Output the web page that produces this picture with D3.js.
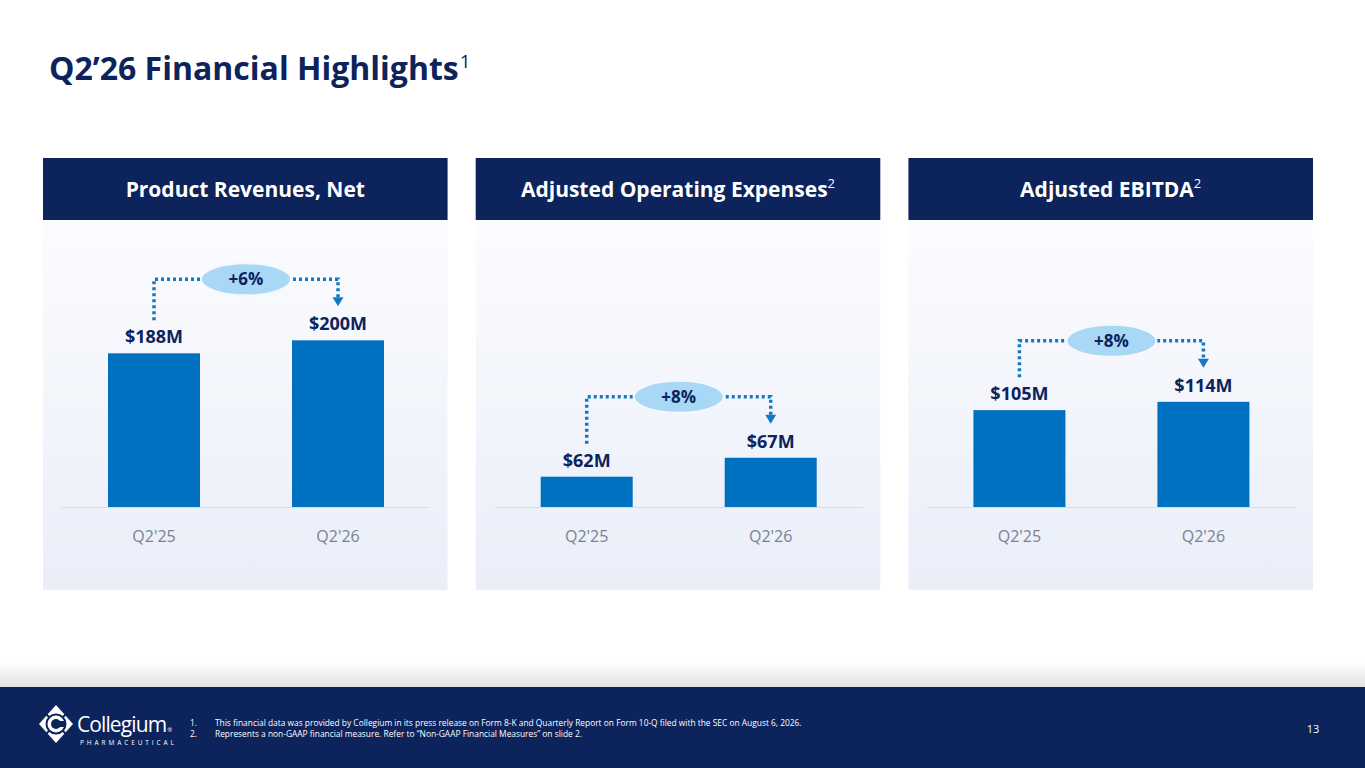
<!DOCTYPE html>
<html lang="en">
<head>
<meta charset="UTF-8">
<title>Q2'26 Financial Highlights</title>
<script src="https://d3js.org/d3.v7.min.js"></script>
<style>
  body { margin: 0; background: #fff; }
  svg { display: block; font-family: "Open Sans", "Noto Sans", sans-serif; }
</style>
</head>
<body>
<svg></svg>
<script>
// chart data
const panelTitles = ["Product Revenues, Net", "Adjusted Operating Expenses", "Adjusted EBITDA"];
const titleNotes = ["", "2", "2"];
const categories = ["Q2'25", "Q2'26"];
const revenues = [188, 200];
const opexValues = [62, 67];
const ebitdaValues = [105, 114];
const valueLabels = [["$188M", "$200M"], ["$62M", "$67M"], ["$105M", "$114M"]];
const changes = ["+6%", "+8%", "+8%"];
// value axis of each panel (the slide does not start its bars at zero)
const axisRanges = [[46, 277], [54, 120], [0, 271]];
const footnotes = [
    "This financial data was provided by Collegium in its press release on Form 8-K and Quarterly Report on Form 10-Q filed with the SEC on August 6, 2026.",
    "Represents a non-GAAP financial measure. Refer to \u201cNon-GAAP Financial Measures\u201d on slide 2."
];
const pageNumber = "13";

const width = 1365, height = 768;
const navy = "#0c235c", blue = "#0070c0";
const panelSeries = [revenues, opexValues, ebitdaValues];

const svg = d3.select("svg")
    .attr("width", width)
    .attr("height", height);

const defs = svg.append("defs");
const bodyGrad = defs.append("linearGradient")
    .attr("id", "panelBody").attr("x1", 0).attr("y1", 0).attr("x2", 0).attr("y2", 1);
bodyGrad.append("stop").attr("offset", "0%").attr("stop-color", "#fbfcfe");
bodyGrad.append("stop").attr("offset", "100%").attr("stop-color", "#eaeef9");
const shadeGrad = defs.append("linearGradient")
    .attr("id", "footShade").attr("x1", 0).attr("y1", 0).attr("x2", 0).attr("y2", 1);
shadeGrad.append("stop").attr("offset", "0%").attr("stop-color", "#ffffff");
shadeGrad.append("stop").attr("offset", "100%").attr("stop-color", "#e2e2e2");

// slide title
svg.append("text")
    .attr("x", 49).attr("y", 80)
    .attr("fill", navy)
    .style("font-size", "32px")
    .style("font-weight", 700)
    .text("Q2\u201926 Financial Highlights")
    .append("tspan")
    .attr("dx", 1).attr("dy", -12)
    .style("font-size", "19px")
    .style("font-weight", 400)
    .text("1");

// panels
const panelX = d3.scaleBand()
    .domain(d3.range(panelTitles.length))
    .range([43, 1313])
    .paddingInner(0.065);

const headerTop = 158, headerH = 62, bodyBottom = 590, baseY = 507;

panelTitles.forEach((title, i) => {
    const g = svg.append("g").attr("transform", `translate(${panelX(i)},0)`);
    const pw = panelX.bandwidth();
    const values = panelSeries[i];

    g.append("rect")
        .attr("y", headerTop + headerH).attr("width", pw)
        .attr("height", bodyBottom - headerTop - headerH)
        .attr("fill", "url(#panelBody)");
    g.append("rect")
        .attr("y", headerTop).attr("width", pw).attr("height", headerH)
        .attr("fill", navy);

    const t = g.append("text")
        .attr("x", pw / 2).attr("y", headerTop + 39)
        .attr("text-anchor", "middle")
        .attr("fill", "#fff")
        .style("font-size", "21px").style("font-weight", 700)
        .text(title);
    if (titleNotes[i]) {
        t.append("tspan").attr("dy", -9)
            .style("font-size", "13px").style("font-weight", 400)
            .text(titleNotes[i]);
    }

    const x = d3.scaleBand()
        .domain(categories)
        .range([19, 387])
        .paddingInner(0.5)
        .paddingOuter(0.25);
    const y = d3.scaleLinear()
        .domain(axisRanges[i])
        .range([baseY, 257]);

    g.append("line")
        .attr("x1", 19).attr("x2", 387)
        .attr("y1", baseY + 0.5).attr("y2", baseY + 0.5)
        .attr("stroke", "#d9dde7").attr("stroke-width", 1);

    g.selectAll(".bar")
        .data(values)
        .join("rect")
        .attr("class", "bar")
        .attr("x", (d, j) => x(categories[j]))
        .attr("y", d => y(d))
        .attr("width", x.bandwidth())
        .attr("height", d => baseY - y(d))
        .attr("fill", blue);

    g.selectAll(".val")
        .data(values)
        .join("text")
        .attr("class", "val")
        .attr("x", (d, j) => x(categories[j]) + x.bandwidth() / 2)
        .attr("y", d => y(d) - 10)
        .attr("text-anchor", "middle")
        .attr("fill", navy)
        .style("font-size", "18px").style("font-weight", 700)
        .text((d, j) => valueLabels[i][j]);

    g.selectAll(".cat")
        .data(categories)
        .join("text")
        .attr("class", "cat")
        .attr("x", d => x(d) + x.bandwidth() / 2)
        .attr("y", baseY + 35)
        .attr("text-anchor", "middle")
        .attr("fill", "#7b8192")
        .style("font-size", "16px")
        .text(d => d);

    // growth connector
    const c1 = x(categories[0]) + x.bandwidth() / 2;
    const c2 = x(categories[1]) + x.bandwidth() / 2;
    const top1 = y(values[0]), top2 = y(values[1]);
    const hy = Math.min(top1, top2) - 61;
    const tip = top2 - 34;
    g.append("path")
        .attr("d", `M${c1},${top1 - 33}V${hy}H${c2}V${tip - 8}`)
        .attr("fill", "none")
        .attr("stroke", "#1479c4")
        .attr("stroke-width", 3.5)
        .attr("stroke-dasharray", "3 3");
    g.append("path")
        .attr("d", `M${c2 - 5.5},${tip - 9}L${c2 + 5.5},${tip - 9}L${c2},${tip}Z`)
        .attr("fill", "#1479c4");
    const mx = (c1 + c2) / 2;
    g.append("ellipse")
        .attr("cx", mx).attr("cy", hy)
        .attr("rx", 45).attr("ry", 16)
        .attr("fill", "#a9d7f6")
        .attr("stroke", "#f4f7fc").attr("stroke-width", 2);
    g.append("text")
        .attr("x", mx).attr("y", hy + 6)
        .attr("text-anchor", "middle")
        .attr("fill", navy)
        .style("font-size", "17px").style("font-weight", 700)
        .text(changes[i]);
});

// footer
svg.append("rect").attr("y", 662).attr("width", width).attr("height", 25).attr("fill", "url(#footShade)");
svg.append("rect").attr("y", 687).attr("width", width).attr("height", height - 687).attr("fill", navy);

// logo mark
const logo = svg.append("g").attr("transform", "translate(56,724)");
logo.append("path").attr("d", "M0,-19L17,0L0,19L-17,0Z").attr("fill", "#fff");
logo.append("path").attr("d", "M-19,-19L19,19M19,-19L-19,19")
    .attr("stroke", navy).attr("stroke-width", 2);
logo.append("circle").attr("r", 10.5).attr("fill", navy);
logo.append("circle").attr("r", 8.5).attr("fill", "#fff");
logo.append("circle").attr("r", 5).attr("fill", navy);
logo.append("rect").attr("x", 3).attr("y", -3).attr("width", 7).attr("height", 6).attr("fill", navy);

svg.append("text")
    .attr("x", 77).attr("y", 732)
    .attr("fill", "#fff")
    .style("font-size", "21px")
    .style("letter-spacing", "-0.9px")
    .text("Collegium")
    .append("tspan").attr("dx", 1).style("font-size", "6px").text("\u00ae");
svg.append("text")
    .attr("x", 80).attr("y", 745)
    .attr("fill", "#fff")
    .style("font-size", "6.5px")
    .style("letter-spacing", "2.9px")
    .text("PHARMACEUTICAL");

const notes = svg.selectAll(".note")
    .data(footnotes)
    .join("g")
    .attr("class", "note")
    .attr("transform", (d, i) => `translate(0,${726 + i * 10.5})`);
notes.append("text")
    .attr("x", 190).attr("fill", "#fff").style("font-size", "8.4px")
    .text((d, i) => (i + 1) + ".");
notes.append("text")
    .attr("x", 215).attr("fill", "#fff").style("font-size", "8.4px")
    .text(d => d);

svg.append("text")
    .attr("x", 1313).attr("y", 733)
    .attr("text-anchor", "middle")
    .attr("fill", "#fff")
    .style("font-size", "11px")
    .text(pageNumber);
</script>
</body>
</html>
